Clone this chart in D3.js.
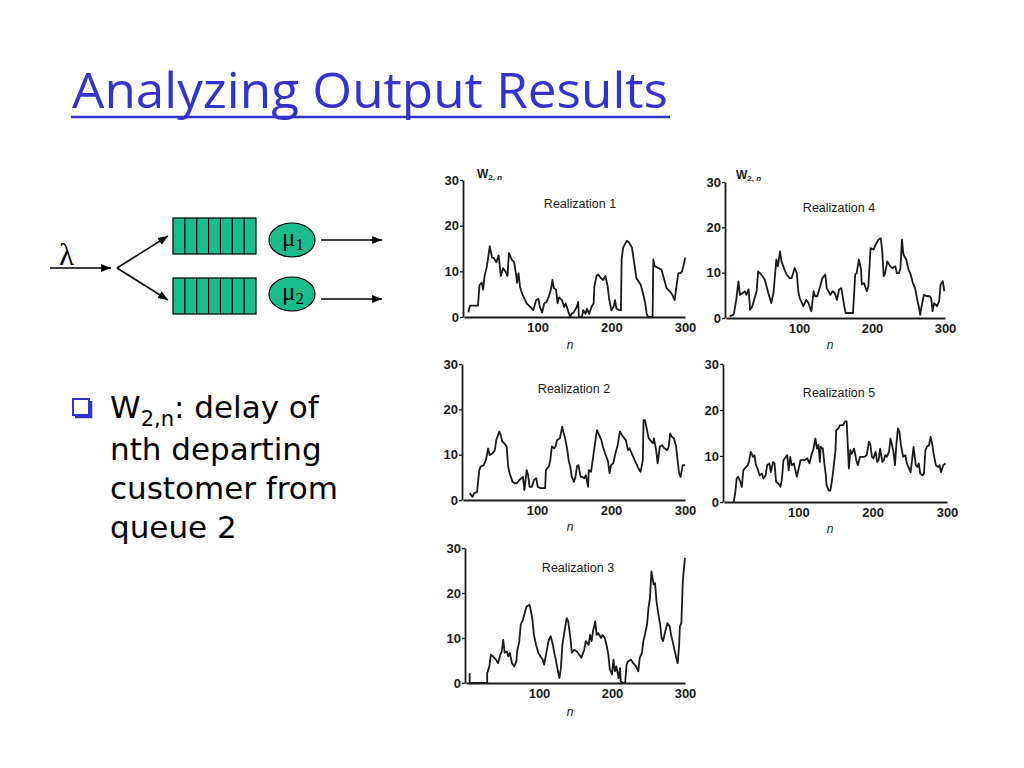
<!DOCTYPE html>
<html><head><meta charset="utf-8">
<script src="https://cdn.jsdelivr.net/npm/d3@7"></script>
<style>
html,body{margin:0;padding:0;background:#fff;}
svg{display:block;}
.tick text{font-family:"Liberation Sans",Arial,sans-serif;}
</style></head>
<body>
<svg id="c" width="1024" height="768"></svg>
<script>
// ---- data ----
const xTicks = [100, 200, 300];
const yTicks = [0, 10, 20, 30];
const labels = ["Realization 1", "Realization 4", "Realization 2", "Realization 5", "Realization 3"];
const R1 = [[6,1],[8,2.5],[15,2.5],[19,2.5],[21,7],[24,7.5],[26,6],[28,9],[31,11],[35,15.5],[38,13],[40,13],[44,12],[47,13.5],[50,9],[53,10.7],[56,10],[59,9],[61,14],[65,12.5],[68,12],[71,9],[72,7.5],[74,9.6],[76,6.7],[78,5.5],[82,4],[85,3],[90,2.2],[94,1.5],[98,3.7],[101,4],[103,2.2],[106,1],[109,3],[112,3.3],[115,4.4],[118,6],[120,8.1],[122,6.3],[125,6],[127,3],[129,4.3],[133,3.7],[136,2.2],[138,3],[142,1],[144,0],[146,0.7],[149,1],[153,2.2],[155,3.3],[156,0],[160,0],[162,1.5],[165,0.7],[167,1.8],[170,0.7],[173,2.2],[176,3],[177,6.7],[180,9],[182,9.3],[186,8.5],[189,8.1],[192,9],[195,6.7],[197,4],[200,1.5],[203,2.2],[205,3.7],[207,1.8],[211,1.5],[213,1.5],[214,12.6],[216,15.2],[221,16.7],[224,16.3],[228,15.2],[231,11.9],[234,8.5],[237,7.8],[240,7],[243,5.2],[246,3],[248,0.7],[250,0],[256,0],[257,12.6],[259,11.1],[264,10.7],[268,10.4],[272,8.1],[275,6.3],[280,5.5],[283,4.8],[286,3.7],[289,7.4],[291,9.6],[294,9.6],[296,10],[299,11.9],[300,13]];
const R4 = [[5,0.4],[10,0.7],[11,1.1],[14,4],[17,8.1],[19,5.1],[23,5.5],[26,5.9],[28,5.1],[31,6.3],[33,1.8],[36,2.6],[40,4.8],[42,5.9],[44,10.3],[48,9.6],[50,9.2],[53,8.5],[58,5.5],[62,3.3],[65,5.5],[69,12.9],[71,11.4],[74,14.7],[76,12.5],[80,10.7],[83,9.6],[87,8.8],[90,8.8],[94,11],[97,9.9],[99,5.9],[101,4.4],[106,2.6],[110,4],[113,3.3],[116,1.8],[117,1.5],[120,5.9],[122,4.8],[125,4.8],[129,7],[132,8.8],[136,9.6],[138,6.6],[143,5.1],[146,5.9],[149,5.5],[152,4],[155,6.3],[158,6.6],[162,2.6],[164,1.1],[168,1.1],[172,1.1],[174,1.1],[177,9.6],[179,9.9],[182,12.9],[185,10.7],[186,7.4],[189,7.7],[193,5.9],[195,7],[198,15.4],[202,15.1],[205,16.2],[209,17.3],[212,17.6],[214,14.7],[216,9.2],[218,9.9],[221,12.5],[225,11.4],[228,11],[232,11.4],[234,9.9],[237,9.9],[239,11],[241,17.3],[243,14],[247,12.9],[250,10.7],[253,9.6],[256,7.7],[259,6.6],[262,4],[264,2.6],[266,0.7],[268,2.6],[271,5.1],[275,4.8],[279,4.8],[281,4.4],[283,1.5],[285,3.3],[289,2.6],[292,3.7],[294,7.4],[297,8.1],[299,5.9]];
const R2 = [[9,1.5],[13,0.7],[15,1.5],[19,1.8],[22,6.6],[24,7.4],[28,7.7],[31,8.8],[34,11.4],[36,9.9],[40,10.3],[43,11],[45,13.2],[49,15.1],[51,14.3],[53,12.9],[56,12.5],[59,11.8],[61,7.4],[63,5.9],[67,4],[70,3.7],[73,3.7],[76,4.4],[79,4.8],[81,5.1],[83,2.2],[86,6.6],[88,5.5],[90,2.9],[93,2.9],[96,4.4],[99,4.8],[101,2.9],[105,2.6],[109,2.6],[111,2.6],[112,6.6],[116,7.4],[118,8.8],[120,11.8],[123,11.4],[125,11.8],[127,13.2],[131,13.6],[134,16.2],[136,14.7],[138,13.6],[141,11],[143,8.5],[145,7.4],[147,5.1],[150,4],[152,5.1],[154,7.4],[156,7.7],[159,5.1],[161,5.1],[164,4.8],[166,5.5],[169,2.9],[170,6.6],[173,6.2],[176,9.6],[179,13.2],[181,15.4],[183,14.7],[187,13.2],[189,11.8],[192,10.3],[196,8.5],[198,5.9],[200,7.7],[203,8.1],[206,10.3],[209,12.1],[212,15.1],[215,14.3],[218,13.6],[220,13.2],[223,11],[225,11.4],[228,10.3],[232,8.8],[234,8.1],[237,7],[240,6.2],[243,8.8],[244,17.6],[246,17.6],[249,15.1],[251,13.6],[253,13.2],[257,12.5],[258,13.6],[261,11],[263,8.1],[266,11.8],[269,12.1],[272,11.4],[276,11],[278,11.8],[280,14.7],[282,14],[285,13.6],[288,11.8],[290,8.8],[292,5.9],[294,5.1],[297,7.7],[300,7.7]];
const R5 = [[13,0],[15,1.8],[17,5.1],[19,5.5],[22,4.4],[24,3.3],[26,6.9],[28,7.3],[32,8],[34,9.1],[36,10.9],[39,9.8],[41,10.2],[43,8],[45,7.3],[48,5.8],[51,6.2],[53,5.1],[56,5.8],[58,8],[61,8.4],[63,6.5],[66,8.7],[68,8.4],[70,4.4],[73,4],[76,3.3],[78,5.1],[80,9.1],[82,9.5],[85,10.2],[87,6.9],[89,9.8],[91,8],[94,8.4],[98,5.5],[100,6.9],[103,9.1],[106,9.1],[109,9.1],[112,9.5],[115,8.4],[118,10.5],[120,11.3],[123,13.8],[125,11.6],[127,12.4],[129,8.7],[130,12],[133,11.6],[135,8.4],[137,5.8],[138,3.6],[141,2.5],[143,2.5],[145,4.4],[147,6.9],[150,11.3],[151,15.6],[154,16],[156,16.7],[160,16.7],[163,17.5],[165,17.5],[168,7.3],[170,11.3],[172,10.5],[175,11.6],[178,9.1],[180,8],[183,9.8],[186,9.8],[189,9.8],[192,10.2],[195,13.1],[197,12.4],[199,9.8],[201,9.5],[204,10.9],[206,8.7],[208,9.1],[210,11.6],[213,8.7],[215,9.1],[217,10.2],[219,9.8],[222,10.9],[224,13.8],[226,12.4],[228,10.9],[230,8],[232,12.7],[234,16],[236,15.3],[238,12.4],[241,9.8],[244,10.2],[246,8.4],[249,7.3],[251,6.5],[253,9.1],[255,12],[258,8],[260,7.6],[262,8.4],[264,6.2],[267,5.8],[269,6.2],[271,11.3],[273,12],[276,12.4],[278,14.2],[280,12.7],[282,10.5],[285,8],[288,7.6],[290,8],[292,6.5],[295,8],[298,8.4]];
const R3 = [[5,0],[5,2],[5,0],[29,0],[29,2.2],[32,3.7],[34,6.3],[37,5.9],[41,5.2],[44,4.4],[47,6.3],[49,7],[51,9.6],[53,6.7],[56,7],[58,5.9],[60,6.7],[63,4.4],[66,3.7],[69,4.8],[70,7],[73,9.3],[75,13],[78,14.1],[81,15.9],[83,17],[87,17.4],[89,15.9],[91,14.1],[93,10.7],[96,8.5],[99,6.7],[102,5.9],[105,5.2],[107,4.1],[110,6.7],[113,9.3],[116,10.4],[119,8.5],[121,6.7],[123,5.2],[126,2.6],[128,1.1],[130,3.3],[132,8.5],[136,12.6],[138,14.4],[140,13.7],[143,10],[145,6.7],[148,7.4],[152,7],[155,6.3],[158,5.6],[162,7.4],[164,9.3],[168,8.5],[170,10.7],[172,9.3],[174,11.5],[177,13.7],[179,10.7],[181,11.1],[185,10],[187,10.7],[190,10],[193,8.1],[195,6.3],[197,3],[200,1.9],[202,5.2],[204,2.6],[206,3.7],[209,1.1],[211,3.3],[212,0.4],[215,0],[218,0],[220,4.1],[222,4.8],[226,5.2],[229,4.4],[233,3.7],[236,2.6],[238,5.6],[241,6.7],[243,9.3],[245,10.7],[248,13],[250,16.7],[252,18.9],[254,24.8],[257,21.9],[259,22.2],[261,18.1],[264,14.8],[266,13],[268,10],[270,9.3],[273,11.5],[276,13.3],[279,12.6],[281,10.7],[283,9.3],[285,7.8],[288,5.6],[290,4.4],[292,8.5],[293,12.6],[295,13.3],[297,22.6],[299,26.3],[300,27.8]];
const series = [R1, R4, R2, R5, R3];

// ---- layout ----
const layout = [
  {x0:464, x1:685, y0:317, y1:180, lx:580, ly:208, nx:570, ny:349, w:[477,178]},
  {x0:726, x1:945, y0:318, y1:182, lx:839, ly:212, nx:830, ny:349, w:[736,179]},
  {x0:463, x1:685, y0:500, y1:364, lx:574, ly:393, nx:570, ny:531},
  {x0:724, x1:947, y0:502, y1:364, lx:839, ly:397, nx:830, ny:533},
  {x0:466, x1:685, y0:683, y1:548, lx:578, ly:572, nx:570, ny:716}
];

const svg = d3.select("#c");
const blue = "#3333cc";

// Title
svg.append("text").attr("x", 72).attr("y", 108)
  .attr("font-family", "'Open Sans', 'DejaVu Sans', sans-serif")
  .attr("font-size", 50).attr("fill", blue)
  .attr("textLength", 596).attr("lengthAdjust", "spacingAndGlyphs")
  .text("Analyzing Output Results");
svg.append("line").attr("x1", 71).attr("x2", 670).attr("y1", 117).attr("y2", 117)
  .attr("stroke", blue).attr("stroke-width", 2.5);

// Diagram
const defs = svg.append("defs");
defs.append("marker").attr("id", "ah").attr("viewBox", "0 0 10 10")
  .attr("refX", 10).attr("refY", 5).attr("markerWidth", 10).attr("markerHeight", 10)
  .attr("markerUnits", "userSpaceOnUse").attr("orient", "auto")
  .append("path").attr("d", "M0,1 L10,5 L0,9 Z").attr("fill", "#000");
const arrow = (x1, y1, x2, y2) => svg.append("line").attr("x1", x1).attr("y1", y1)
  .attr("x2", x2).attr("y2", y2).attr("stroke", "#000").attr("stroke-width", 1.5)
  .attr("marker-end", "url(#ah)");
arrow(50, 268, 111, 268);
arrow(117, 268, 168, 236);
arrow(117, 268, 168, 300);
arrow(321, 240, 382, 240);
arrow(321, 299, 382, 299);
svg.append("text").attr("x", 59).attr("y", 265).attr("font-family", "'Liberation Serif', serif")
  .attr("font-size", 31).text("λ");

const green = "#1abc8c";
[[218, 254], [278, 314]].forEach(([t, b]) => {
  svg.append("rect").attr("x", 173).attr("y", t).attr("width", 83).attr("height", b - t)
    .attr("fill", green).attr("stroke", "#000").attr("stroke-width", 1.2);
  for (let i = 1; i < 7; i++) {
    const xx = 173 + i * 83 / 7;
    svg.append("line").attr("x1", xx).attr("x2", xx).attr("y1", t).attr("y2", b)
      .attr("stroke", "#000").attr("stroke-width", 1.2);
  }
});
[[240, "1"], [294, "2"]].forEach(([cy, s]) => {
  svg.append("ellipse").attr("cx", 292).attr("cy", cy).attr("rx", 23).attr("ry", 17)
    .attr("fill", green).attr("stroke", "#000").attr("stroke-width", 1.2);
  const t = svg.append("text").attr("x", 282).attr("y", cy + 6)
    .attr("font-family", "'Liberation Serif', serif").attr("font-size", 25).text("μ");
  t.append("tspan").attr("font-size", 17).attr("dy", 4).text(s);
});

// Bullet
svg.append("rect").attr("x", 73).attr("y", 399).attr("width", 16).attr("height", 16)
  .attr("fill", "none").attr("stroke", blue).attr("stroke-width", 2);
svg.append("path").attr("d", "M75,417 L91,417 L91,401").attr("fill", "none")
  .attr("stroke", blue).attr("stroke-width", 2.5);
const bf = "'DejaVu Sans', sans-serif";
const l1 = svg.append("text").attr("x", 110).attr("y", 418).attr("font-family", bf).attr("font-size", 31);
l1.append("tspan").text("W");
l1.append("tspan").attr("font-size", 21).attr("dy", 8).text("2,n");
l1.append("tspan").attr("dy", -8).text(": delay of");
["nth departing", "customer from", "queue 2"].forEach((s, i) => {
  svg.append("text").attr("x", 110).attr("y", 460 + i * 39).attr("font-family", bf)
    .attr("font-size", 31).text(s);
});

// Panels
const ink = "#1a1a1a";
series.forEach((data, i) => {
  const L = layout[i];
  const x = d3.scaleLinear().domain([0, 300]).range([L.x0, L.x1]);
  const y = d3.scaleLinear().domain([0, 30]).range([L.y0, L.y1]);
  const g = svg.append("g");
  const ya = g.append("g").attr("transform", `translate(${L.x0 - 1},0)`)
    .call(d3.axisLeft(y).tickValues(yTicks).tickSize(3).tickSizeOuter(0).tickPadding(1));
  const xa = g.append("g").attr("transform", `translate(0,${L.y0})`)
    .call(d3.axisBottom(x).tickValues(xTicks).tickSize(0).tickSizeOuter(0).tickPadding(6));
  [ya, xa].forEach(a => {
    a.select(".domain").attr("stroke", ink).attr("stroke-width", 1.8);
    a.selectAll(".tick line").attr("stroke", ink).attr("stroke-width", 1.3);
    a.selectAll(".tick text").attr("font-size", 13).attr("font-weight", "bold").attr("fill", ink);
  });
  g.append("path").datum(data)
    .attr("d", d3.line().x(d => x(d[0])).y(d => y(d[1])))
    .attr("fill", "none").attr("stroke", ink).attr("stroke-width", 1.8)
    .attr("stroke-linejoin", "round");
  g.append("text").attr("x", L.lx).attr("y", L.ly).attr("text-anchor", "middle")
    .attr("font-family", "'Liberation Sans', Arial, sans-serif").attr("font-size", 12.5)
    .attr("fill", ink).text(labels[i]);
  g.append("text").attr("x", L.nx).attr("y", L.ny).attr("text-anchor", "middle")
    .attr("font-family", "'Liberation Sans', Arial, sans-serif").attr("font-size", 12)
    .attr("font-style", "italic").attr("fill", ink).text("n");
  if (L.w) {
    const w = g.append("text").attr("x", L.w[0]).attr("y", L.w[1])
      .attr("font-family", "'Liberation Sans', Arial, sans-serif").attr("font-size", 12)
      .attr("font-weight", "bold").attr("fill", ink);
    w.append("tspan").text("W");
    w.append("tspan").attr("font-size", 8).attr("dy", 2).text("2, ");
    w.append("tspan").attr("font-size", 8).attr("font-style", "italic").text("n");
  }
});
</script>
</body></html>
